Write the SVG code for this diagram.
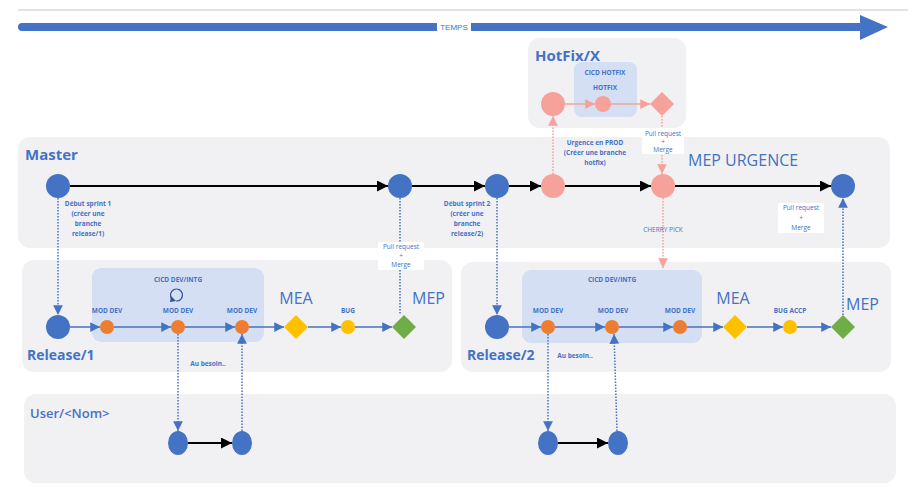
<svg xmlns="http://www.w3.org/2000/svg" width="918" height="503" viewBox="0 0 918 503">
<defs>
<style>
.panel{fill:#F1F1F4}
.inner{fill:#D5DFF3}
.title{font-family:"Open Sans","Noto Sans",sans-serif;font-weight:bold;fill:#4472C4;font-size:14px}
.utitle{font-family:"Open Sans","Noto Sans",sans-serif;font-weight:600;fill:#4472C4;font-size:13px}
.big{font-family:"Open Sans","Noto Sans",sans-serif;fill:#4472C4;font-size:16px}
.sm{font-family:"Open Sans","Noto Sans",sans-serif;font-weight:bold;fill:#4472C4;font-size:6.5px;text-anchor:middle}
.smn{font-family:"Open Sans","Noto Sans",sans-serif;font-weight:normal;fill:#4472C4;font-size:6.5px;text-anchor:middle}
.bn{fill:#4472C4}
.on{fill:#ED7D31}
.yn{fill:#FFC000}
.gn{fill:#70AD47}
.sn{fill:#F6A29A}
.blk{stroke:#000;stroke-width:2;fill:none}
.bl{stroke:#4472C4;stroke-width:1.5;fill:none}
.bd{stroke:#4472C4;stroke-width:1.5;stroke-dasharray:1.5 1.5;fill:none}
.sd{stroke:#F6A29A;stroke-width:1.5;stroke-dasharray:1.5 1.5;fill:none}
.sl{stroke:#F6A29A;stroke-width:1.5;fill:none}
</style>
<marker id="ak" viewBox="0 0 10 10" refX="10" refY="5" markerWidth="5.5" markerHeight="5.5" orient="auto" markerUnits="strokeWidth"><path d="M0,0L10,5L0,10z" fill="#000"/></marker>
<marker id="ab" viewBox="0 0 10 10" refX="10" refY="5" markerWidth="6.5" markerHeight="6.5" orient="auto" markerUnits="strokeWidth"><path d="M0,0L10,5L0,10z" fill="#4472C4"/></marker>
<marker id="as" viewBox="0 0 10 10" refX="10" refY="5" markerWidth="6.5" markerHeight="6.5" orient="auto" markerUnits="strokeWidth"><path d="M0,0L10,5L0,10z" fill="#F6A29A"/></marker>
</defs>
<rect width="918" height="503" fill="#fff"/>
<line x1="18" y1="10" x2="908" y2="10" stroke="#DADADA" stroke-width="1.5"/>
<g id="temps">
<path d="M22,23H860V15L888,27L860,40V31H22A4,4 0 0 1 22,23z" fill="#4472C4"/>
<rect x="437" y="22" width="34" height="10" fill="#fff"/>
<text x="454" y="30" font-family="Liberation Sans Narrow,Liberation Sans,sans-serif" font-size="8" fill="#4472C4" text-anchor="middle">TEMPS</text>
</g>
<g id="panels">
<rect class="panel" x="528" y="38" width="158" height="90" rx="12"/>
<rect class="panel" x="18" y="137" width="872" height="111" rx="12"/>
<rect class="panel" x="22" y="260" width="430" height="112" rx="12"/>
<rect class="panel" x="461" y="262" width="430" height="110" rx="12"/>
<rect class="panel" x="24" y="394" width="872" height="89" rx="12"/>
<rect class="inner" x="574" y="62" width="63" height="55" rx="8"/>
<rect class="inner" x="92" y="268" width="172" height="74" rx="9"/>
<rect class="inner" x="522" y="270" width="180" height="73" rx="9"/>
<text class="title" x="535" y="61" style="font-size:15px">HotFix/X</text>
<text class="title" x="25" y="160" style="font-size:15px">Master</text>
<text class="title" x="27" y="360">Release/1</text>
<text class="title" x="467" y="360">Release/2</text>
<text class="utitle" x="30" y="418">User/&lt;Nom&gt;</text>
</g>
<g id="connectors">
<line class="blk" x1="70" y1="186" x2="388" y2="186" marker-end="url(#ak)"/>
<line class="blk" x1="412" y1="186" x2="485" y2="186" marker-end="url(#ak)"/>
<line class="blk" x1="509" y1="186" x2="541" y2="186" marker-end="url(#ak)"/>
<line class="blk" x1="565" y1="186" x2="651" y2="186" marker-end="url(#ak)"/>
<line class="blk" x1="675" y1="186" x2="831" y2="186" marker-end="url(#ak)"/>
<line class="blk" x1="188" y1="443" x2="232" y2="443" marker-end="url(#ak)"/>
<line class="blk" x1="558" y1="443" x2="608" y2="443" marker-end="url(#ak)"/>
<line class="sl" x1="565" y1="104" x2="595" y2="104" marker-end="url(#as)"/>
<line class="sl" x1="611" y1="104" x2="650" y2="104" marker-end="url(#as)"/>
<line class="sd" x1="553" y1="174" x2="553" y2="116" marker-end="url(#as)"/>
<line class="sd" x1="662" y1="116" x2="662" y2="174" marker-end="url(#as)"/>
<line class="sd" x1="663" y1="198" x2="663" y2="268" marker-end="url(#as)"/>
<line class="bd" x1="58" y1="198" x2="58" y2="315" marker-end="url(#ab)"/>
<line class="bd" x1="400" y1="198" x2="400" y2="315"/>
<line class="bd" x1="497" y1="198" x2="497" y2="315" marker-end="url(#ab)"/>
<line class="bd" x1="843" y1="315" x2="843" y2="198" marker-end="url(#ab)"/>
<line class="bd" x1="178" y1="334" x2="178" y2="431" marker-end="url(#ab)"/>
<line class="bd" x1="242" y1="431" x2="242" y2="334" marker-end="url(#ab)"/>
<line class="bd" x1="548" y1="334" x2="548" y2="431" marker-end="url(#ab)"/>
<line class="bd" x1="617" y1="431" x2="614" y2="334" marker-end="url(#ab)"/>
<line class="bl" x1="70" y1="327" x2="100" y2="327" marker-end="url(#ab)"/>
<line class="bl" x1="114" y1="327" x2="171" y2="327" marker-end="url(#ab)"/>
<line class="bl" x1="185" y1="327" x2="235" y2="327" marker-end="url(#ab)"/>
<line class="bl" x1="249" y1="327" x2="284" y2="327" marker-end="url(#ab)"/>
<line class="bl" x1="308" y1="327" x2="341" y2="327" marker-end="url(#ab)"/>
<line class="bl" x1="355" y1="327" x2="392" y2="327" marker-end="url(#ab)"/>
<line class="bl" x1="509" y1="327" x2="541" y2="327" marker-end="url(#ab)"/>
<line class="bl" x1="555" y1="327" x2="605" y2="327" marker-end="url(#ab)"/>
<line class="bl" x1="619" y1="327" x2="673" y2="327" marker-end="url(#ab)"/>
<line class="bl" x1="687" y1="327" x2="723" y2="327" marker-end="url(#ab)"/>
<line class="bl" x1="747" y1="327" x2="783" y2="327" marker-end="url(#ab)"/>
<line class="bl" x1="797" y1="327" x2="831" y2="327" marker-end="url(#ab)"/>
</g>
<g id="hotfix">
<circle id="hf1" class="sn" cx="553" cy="104" r="12"/>
<circle id="hf2" class="sn" cx="603" cy="104" r="8"/>
<path id="hf3" class="sn" d="M662,92L674,104L662,116L650,104z"/>
<text class="sm" x="605" y="75">CICD HOTFIX</text>
<text class="sm" x="605" y="90">HOTFIX</text>
</g>
<g id="master">
<circle id="m1" class="bn" cx="58" cy="186" r="12"/>
<circle id="m2" class="bn" cx="400" cy="186" r="12"/>
<circle id="m3" class="bn" cx="497" cy="186" r="12"/>
<circle id="m4" class="sn" cx="553" cy="186" r="12"/>
<circle id="m5" class="sn" cx="663" cy="186" r="12"/>
<circle id="m6" class="bn" cx="843" cy="186" r="12"/>
<text class="sm"><tspan x="88" y="206">Début sprint 1</tspan><tspan x="88" y="216">(créer une</tspan><tspan x="88" y="226">branche</tspan><tspan x="88" y="236">release/1)</tspan></text>
<text class="sm"><tspan x="467" y="206">Début sprint 2</tspan><tspan x="467" y="216">(créer une</tspan><tspan x="467" y="226">branche</tspan><tspan x="467" y="236">release/2)</tspan></text>
<text class="sm"><tspan x="595" y="145">Urgence en PROD</tspan><tspan x="595" y="155">(Créer une branche</tspan><tspan x="595" y="165">hotfix)</tspan></text>
<rect x="642" y="128" width="42" height="26" fill="#fff"/>
<text class="smn"><tspan x="663" y="136">Pull request</tspan><tspan x="663" y="144">+</tspan><tspan x="663" y="152">Merge</tspan></text>
<rect x="378" y="242" width="46" height="28" fill="#fff"/>
<text class="smn"><tspan x="401" y="249">Pull request</tspan><tspan x="401" y="258">+</tspan><tspan x="401" y="267">Merge</tspan></text>
<rect x="778" y="203" width="46" height="30" fill="#fff"/>
<text class="smn"><tspan x="801" y="210">Pull request</tspan><tspan x="801" y="220">+</tspan><tspan x="801" y="230">Merge</tspan></text>
<text class="big" x="688" y="166">MEP URGENCE</text>
<text class="smn" x="663" y="232">CHERRY PICK</text>
</g>
<g id="release1">
<circle id="r1a" class="bn" cx="58" cy="327" r="12"/>
<circle id="r1b" class="on" cx="107" cy="327" r="7"/>
<circle id="r1c" class="on" cx="178" cy="327" r="7"/>
<circle id="r1d" class="on" cx="242" cy="327" r="7"/>
<path id="r1e" class="yn" d="M296,315L308,327L296,339L284,327z"/>
<circle id="r1f" class="yn" cx="348" cy="327" r="7"/>
<path id="r1g" class="gn" d="M404,315L416,327L404,339L392,327z"/>
<text class="sm" x="178" y="282">CICD DEV/INTG</text>
<path d="M172,299A6,6 0 1 1 176,301" fill="none" stroke="#2F5597" stroke-width="1.2"/>
<path d="M171,296L170,302L176,301z" fill="#2F5597"/>
<text class="sm" x="107" y="313">MOD DEV</text>
<text class="sm" x="178" y="313">MOD DEV</text>
<text class="sm" x="242" y="313">MOD DEV</text>
<text class="big" x="296" y="304" text-anchor="middle">MEA</text>
<text class="sm" x="348" y="313">BUG</text>
<text class="big" x="412" y="304">MEP</text>
<text class="sm" x="208" y="366">Au besoin..</text>
</g>
<g id="release2">
<circle id="r2a" class="bn" cx="497" cy="327" r="12"/>
<circle id="r2b" class="on" cx="548" cy="327" r="7"/>
<circle id="r2c" class="on" cx="612" cy="327" r="7"/>
<circle id="r2d" class="on" cx="680" cy="327" r="7"/>
<path id="r2e" class="yn" d="M735,315L747,327L735,339L723,327z"/>
<circle id="r2f" class="yn" cx="790" cy="327" r="7"/>
<path id="r2g" class="gn" d="M843,315L855,327L843,339L831,327z"/>
<text class="sm" x="612" y="282">CICD DEV/INTG</text>
<text class="sm" x="548" y="313">MOD DEV</text>
<text class="sm" x="613" y="313">MOD DEV</text>
<text class="sm" x="680" y="313">MOD DEV</text>
<text class="big" x="733" y="304" text-anchor="middle">MEA</text>
<text class="sm" x="790" y="313">BUG ACCP</text>
<text class="big" x="846" y="310">MEP</text>
<text class="sm" x="575" y="358">Au besoin..</text>
</g>
<g id="user">
<ellipse id="u1" class="bn" cx="178" cy="443" rx="10" ry="12"/>
<ellipse id="u2" class="bn" cx="242" cy="443" rx="10" ry="12"/>
<ellipse id="u3" class="bn" cx="548" cy="443" rx="10" ry="12"/>
<ellipse id="u4" class="bn" cx="618" cy="443" rx="10" ry="12"/>
</g>
</svg>
